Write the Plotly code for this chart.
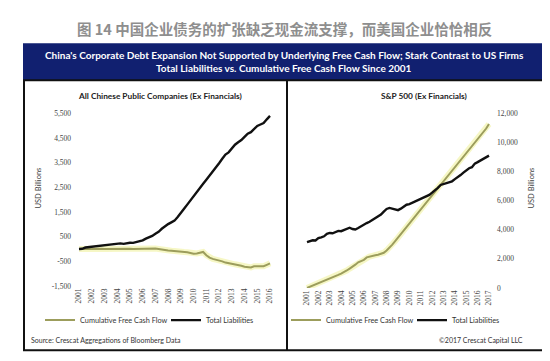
import plotly.graph_objects as go

# ---------------- data ----------------
years_cn = list(range(2001, 2017))
years_us = list(range(2001, 2018))

# China: quarterly, 2001Q1 .. 2016Q1 (USD billions)
cn_liabilities = [0, 10, 60, 75, 80, 110, 120, 140, 150, 165, 180, 175, 220, 230, 210, 240,
                  255, 250, 290, 300, 350, 420, 470, 530, 620, 700, 820, 930, 1010, 1080, 1150, 1300,
                  1450, 1630, 1800, 1980, 2150, 2330, 2490, 2650, 2810, 2970, 3130, 3300, 3480, 3660,
                  3830, 3920, 4100, 4230, 4330, 4420, 4550, 4680, 4740, 4860, 4990, 5050, 5110, 5260, 5400]
cn_fcf = [0, 10, 5, 15, 10, 5, 15, 10, 0, 5, 10, 0, 5, 10, 0, 5,
          10, 5, 10, 20, 25, 30, 40, 35, 20, 0, -30, -60, -60, -70, -80, -75,
          -90, -120, -130, -160, -190, -180, -150, -120, -250, -350, -400, -430, -450, -500,
          -550, -570, -590, -620, -650, -680, -720, -730, -750, -700, -710, -690, -700, -640, -580]

# S&P 500: quarterly, 2001Q1 .. 2017Q1 (USD billions)
us_liabilities = [3150, 3200, 3280, 3260, 3420, 3480, 3550, 3720, 3780, 3760, 3850, 3920, 3900, 3990,
                  4050, 4140, 4050, 4020, 4120, 4250, 4330, 4460, 4550, 4680, 4780, 4900, 5050, 5250,
                  5430, 5500, 5440, 5420, 5350, 5450, 5600, 5720, 5760, 5850, 5900, 6000, 6080, 6170,
                  6260, 6400, 6550, 6700, 6880, 7080, 7150, 7180, 7250, 7330, 7480, 7600, 7760, 7930,
                  8100, 8230, 8300, 8550, 8650, 8770, 8880, 9000, 9100]
us_fcf = [0, 80, 160, 230, 300, 380, 450, 540, 610, 700, 820, 900, 990, 1080, 1200, 1330,
          1450, 1600, 1760, 1850, 1930, 2100, 2160, 2210, 2250, 2280, 2330,
          2420, 2580, 2760, 2980, 3220, 3460, 3700, 3950, 4170, 4420, 4660, 4900, 5180, 5420,
          5650, 5900, 6130, 6380, 6610, 6850, 7110, 7330, 7580, 7810, 8050, 8300, 8530, 8780,
          9010, 9250, 9480, 9730, 9970, 10210, 10450, 10700, 10960, 11270]

cn_ticks = [-1500, -500, 500, 1500, 2500, 3500, 4500, 5500]
cn_ticktext = ["-1,500", "-500", "500", "1,500", "2,500", "3,500", "4,500", "5,500"]
us_ticks = [0, 2000, 4000, 6000, 8000, 10000, 12000]
us_ticktext = ["0", "2,000", "4,000", "6,000", "8,000", "10,000", "12,000"]

q_cn = [2001 + i / 4 for i in range(len(cn_liabilities))]
q_us = [2001 + i / 4 for i in range(len(us_liabilities))]

# ---------------- layout helpers ----------------
W, H = 550, 361
def px(x):
    return x / W
def py(y):
    return 1 - y / H

OLIVE = "#9c9d5c"
GLOW = "rgba(238,240,150,0.55)"
NAVY = "#112070"
SERIF = "Liberation Serif"
SANS = "Lato"

fig = go.Figure()

# left panel
fig.add_trace(go.Scatter(x=q_cn, y=cn_fcf, xaxis="x", yaxis="y", mode="lines",
                         line=dict(color=GLOW, width=6), showlegend=False, hoverinfo="skip"))
fig.add_trace(go.Scatter(x=q_cn, y=cn_fcf, xaxis="x", yaxis="y", mode="lines",
                         name="Cumulative Free Cash Flow", legend="legend",
                         line=dict(color=OLIVE, width=2)))
fig.add_trace(go.Scatter(x=q_cn, y=cn_liabilities, xaxis="x", yaxis="y", mode="lines",
                         name="Total Liabilities", legend="legend",
                         line=dict(color="#111111", width=2.4)))
# right panel
fig.add_trace(go.Scatter(x=q_us, y=us_fcf, xaxis="x2", yaxis="y2", mode="lines",
                         line=dict(color=GLOW, width=6), showlegend=False, hoverinfo="skip"))
fig.add_trace(go.Scatter(x=q_us, y=us_fcf, xaxis="x2", yaxis="y2", mode="lines",
                         name="Cumulative Free Cash Flow", legend="legend2",
                         line=dict(color=OLIVE, width=2)))
fig.add_trace(go.Scatter(x=q_us, y=us_liabilities, xaxis="x2", yaxis="y2", mode="lines",
                         name="Total Liabilities", legend="legend2",
                         line=dict(color="#111111", width=2.4)))

tickfont = dict(family=SERIF, size=7.5, color="#444444")
common_x = dict(showgrid=False, zeroline=False, showline=False, ticks="", tickangle=-90,
                tickfont=tickfont, fixedrange=True)
common_y = dict(showgrid=False, zeroline=False, showline=False, ticks="",
                tickfont=tickfont, fixedrange=True)

legend_common = dict(orientation="h", bgcolor="rgba(0,0,0,0)", borderwidth=0,
                     font=dict(family=SANS, size=7.3, color="#333333"),
                     xanchor="left", yanchor="middle", tracegroupgap=0, itemwidth=30,
                     entrywidth=81, entrywidthmode="pixels")

fig.update_layout(
    width=W, height=H,
    margin=dict(l=0, r=0, t=0, b=0),
    paper_bgcolor="white", plot_bgcolor="rgba(0,0,0,0)",
    xaxis=dict(domain=[px(64), px(269)], range=[2000.45, 2016.55], anchor="y",
               tickvals=years_cn, ticktext=[str(y) for y in years_cn], **common_x),
    yaxis=dict(domain=[py(281), py(104)], range=[-1500, 5500], anchor="x",
               tickvals=cn_ticks, ticktext=cn_ticktext, **common_y),
    xaxis2=dict(domain=[px(292), px(488)], range=[2000.385, 2017.615], anchor="y2",
                tickvals=years_us, ticktext=[str(y) for y in years_us], **common_x),
    yaxis2=dict(domain=[py(283), py(104)], range=[0, 12000], anchor="x2", side="right",
                tickvals=us_ticks, ticktext=us_ticktext, **common_y),
    legend=dict(x=px(32), y=py(316), **legend_common),
    legend2=dict(x=px(278), y=py(316), **legend_common),
    showlegend=True,
)

shapes = [
    dict(type="rect", xref="paper", yref="paper", x0=px(15), x1=px(537), y0=py(70), y1=py(32),
         fillcolor=NAVY, line=dict(width=0), layer="below"),
    dict(type="rect", xref="paper", yref="paper", x0=px(16), x1=px(536), y0=py(347), y1=py(70),
         fillcolor="rgba(0,0,0,0)", line=dict(color="#111111", width=2)),
    dict(type="line", xref="paper", yref="paper", x0=px(279), x1=px(279), y0=py(347), y1=py(70),
         line=dict(color="#111111", width=2)),
]
fig.update_layout(shapes=shapes)

def ann(text, x, y, size, color, family=SANS, xanchor="center", textangle=0):
    return dict(text=text, x=px(x), y=py(y), xref="paper", yref="paper", showarrow=False,
                xanchor=xanchor, yanchor="middle", textangle=textangle,
                font=dict(family=family, size=size, color=color))

annotations = [
    ann("<b>图 14 中国企业债务的扩张缺乏现金流支撑，而美国企业恰恰相反</b>", 276, 17, 14.5, "#8e8e8e",
        family="Noto Sans CJK SC"),
    ann("<b>China's Corporate Debt Expansion Not Supported by Underlying Free Cash Flow; Stark Contrast to US Firms</b>",
        276, 44, 10, "white"),
    ann("<b>Total Liabilities vs. Cumulative Free Cash Flow Since 2001</b>", 276, 57, 10, "white"),
    ann("<b>All Chinese Public Companies (Ex Financials)</b>", 152, 86, 8.3, "#222222"),
    ann("<b>S&amp;P 500 (Ex Financials)</b>", 416, 86, 8.3, "#222222"),
    ann("USD Billions", 30, 181, 7.5, "#444444", textangle=-90),
    ann("USD Billions", 523, 181, 7.5, "#444444", textangle=-90),
    ann("Source: Crescat Aggregations of Bloomberg Data", 21, 336, 7, "#333333", xanchor="left"),
    ann("©2017 Crescat Capital LLC", 517, 336, 7, "#333333", xanchor="right"),
]
fig.update_layout(annotations=annotations)

fig.write_html("out.html", config={"displayModeBar": False})
